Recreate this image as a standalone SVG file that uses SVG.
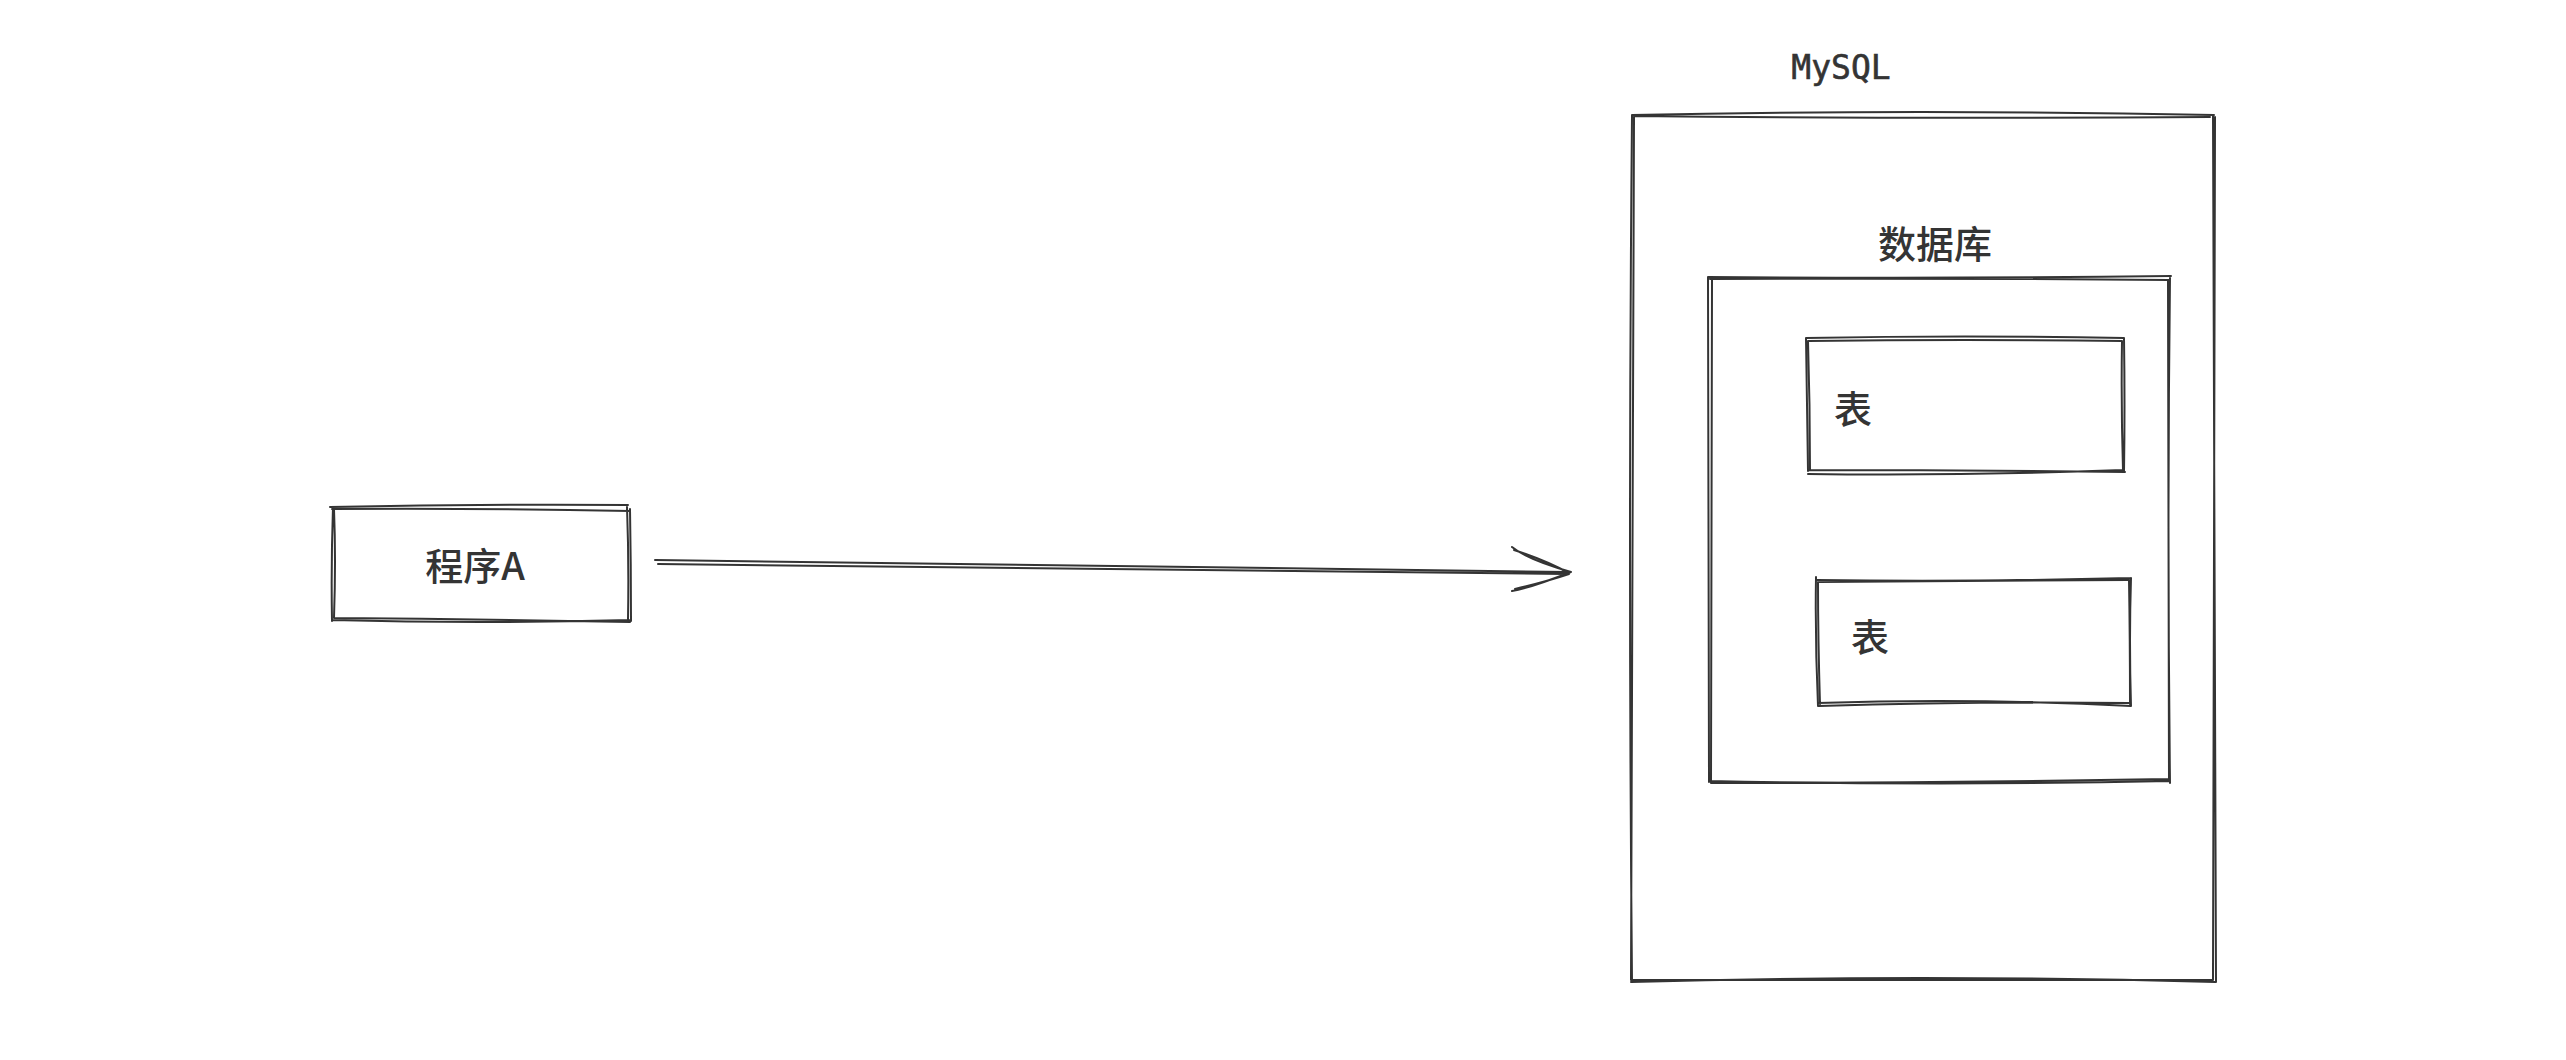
<svg xmlns="http://www.w3.org/2000/svg" width="2566" height="1060" viewBox="0 0 2566 1060">
<style>
.s{fill:none;stroke:#343434;stroke-width:2;stroke-linecap:round;stroke-linejoin:round}
.t{font-family:"Noto Sans CJK SC","Noto Sans",sans-serif;font-size:38px;font-weight:500;fill:#343434}
.m{font-family:"DejaVu Sans Mono","Liberation Mono",monospace;font-size:33px;fill:#343434;stroke:#343434;stroke-width:0.6}
</style>
<rect width="2566" height="1060" fill="#ffffff"/>
<g id="programA">
<path class="s" d="M330 507 Q480 504 628 505 M332 509 Q480 508 630 511 M630 509 Q631 565 631 621 M627 507 Q629 560 628 620 M631 620 Q480 624 332 620 M630 622 Q480 619 334 618 M332 621 Q331 565 333 507 M334 618 Q336 560 334 509"/>
<text class="t" x="475" y="580" text-anchor="middle">程序A</text>
</g>
<g id="mysql">
<path class="s" d="M1632 115 Q1920 109 2214 115 M1634 116 Q1920 119 2210 117 M2213 115 Q2214 550 2216 982 M2215 117 Q2213 550 2213 980 M2215 982 Q1920 974 1631 982 M2213 980 Q1920 980 1632 980 M1632 982 Q1628 550 1632 115 M1631 980 Q1631 550 1634 117"/>
<text class="m" x="1841" y="79" text-anchor="middle">MySQL</text>
</g>
<g id="database">
<path class="s" d="M1708 277 Q1940 279 2171 276 M1710 279 Q1940 278 2169 280 M2170 276 Q2167 530 2170 783 M2168 280 Q2168 530 2169 780 M2170 781 Q1940 786 1709 781 M2169 779 Q1940 783 1711 783 M1709 782 Q1708 530 1708 277 M1711 783 Q1711 530 1712 280"/>
<text class="t" x="1935" y="258" text-anchor="middle">数据库</text>
</g>
<g id="table1">
<path class="s" d="M1806 338 Q1965 335 2124 338 M1808 341 Q1965 339 2122 341 M2124 338 Q2125 405 2124 472 M2122 341 Q2121 405 2123 470 M2125 472 Q1965 470 1808 470 M2123 470 Q1965 476 1808 474 M1808 471 Q1807 405 1806 338 M1810 470 Q1810 405 1808 341"/>
<text class="t" x="1834" y="423">表</text>
</g>
<g id="table2">
<path class="s" d="M1817 580 Q1975 582 2131 578 M1819 582 Q1975 581 2128 580 M2131 578 Q2129 640 2131 706 M2129 580 Q2130 640 2130 704 M2131 706 Q1975 698 1818 703 M2129 703 Q1975 701 1819 706 M1818 706 Q1815 640 1816 577 M1820 704 Q1818 640 1818 582"/>
<text class="t" x="1851" y="651">表</text>
</g>
<g id="connectors">
<path class="s" d="M655 560 Q1110 565 1568 572 M658 564 Q1110 568 1566 574 M1512 547 Q1528 560 1571 572 M1514 550 Q1545 560 1569 573 M1512 591 Q1530 588 1571 572 M1515 589 Q1545 582 1569 574"/>
</g>
</svg>
